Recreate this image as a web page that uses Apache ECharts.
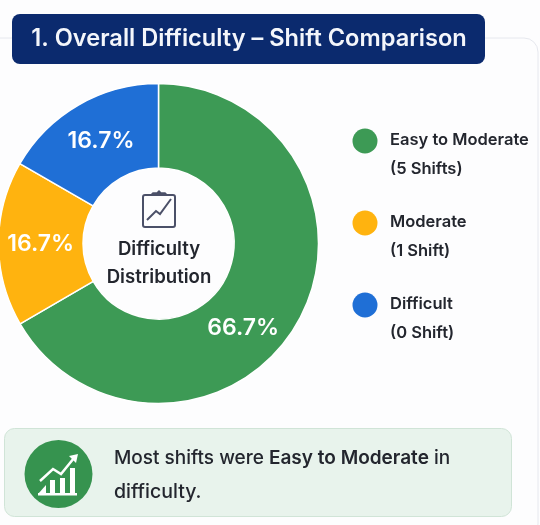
<!DOCTYPE html>
<html><head><meta charset="utf-8">
<script src="https://cdn.jsdelivr.net/npm/echarts@6/dist/echarts.min.js"></script>
<style>html,body{margin:0;padding:0;background:#fdfdfe}#c{width:540px;height:525px}</style>
</head><body><div id="c"></div>
<script>
const categories = ['Easy to Moderate', 'Moderate', 'Difficult'];
const shiftNotes = ['(5 Shifts)', '(1 Shift)', '(0 Shift)'];
const percentValues = [66.7, 16.7, 16.7];
const sliceColors = ['#3d9a55', '#ffb30f', '#1f6fd6'];
const titleText = '1. Overall Difficulty – Shift Comparison';
const centerLines = ['Difficulty', 'Distribution'];
const FONT = 'Inter, "Noto Sans", sans-serif';
const ink = '#23262e';

const legendEls = [];
const legendY = [141, 223, 305];
categories.forEach((c, i) => {
  legendEls.push({type:'circle', shape:{cx:365, cy:legendY[i], r:12.5}, style:{fill:sliceColors[i]}});
  legendEls.push({type:'text', x:390, y:legendY[i]-1, style:{text:c, fill:ink, font:'600 16.5px '+FONT, textVerticalAlign:'middle'}});
  legendEls.push({type:'text', x:390, y:legendY[i]+28, style:{text:shiftNotes[i], fill:ink, font:'600 16.5px '+FONT, textVerticalAlign:'middle'}});
});

const option = {
  animation:false,
  backgroundColor:'#fdfdfe',
  series:[{
    type:'pie', center:[158.5,243.5], radius:[75.5,160], startAngle:90, clockwise:true,
    avoidLabelOverlap:false, silent:true,
    itemStyle:{borderColor:'#ffffff', borderWidth:1.5},
    label:{position:'inside', color:'#fff', fontFamily:FONT, fontSize:23, fontWeight:600, formatter:p=>p.value.toFixed(1)+'%'},
    labelLine:{show:false},
    data:categories.map((c,i)=>({
      name:c, value:percentValues[i], itemStyle:{color:sliceColors[i]},
      label: {offset:[[-20,24],[3,0],[3,2]][i]}
    }))
  }],
  graphic:{elements:[
    {type:'rect', z:-2, shape:{x:-20,y:38,width:558,height:500,r:14}, style:{fill:'#fdfdfe', stroke:'#e6e8ee', lineWidth:1}},
    {type:'rect', z:5, shape:{x:12,y:14,width:473,height:50,r:8}, style:{fill:'#0b2a6e'}},
    {type:'text', z:6, x:249, y:39, style:{text:titleText, fill:'#f4f6fb', font:'600 23.6px '+FONT, textAlign:'center', textVerticalAlign:'middle'}},
    {type:'text', z:6, x:159, y:249, style:{text:centerLines[0], fill:ink, font:'600 18.6px '+FONT, textAlign:'center', textVerticalAlign:'middle'}},
    {type:'text', z:6, x:159, y:277, style:{text:centerLines[1], fill:ink, font:'600 18.6px '+FONT, textAlign:'center', textVerticalAlign:'middle'}},
    {type:'rect', z:6, shape:{x:143,y:195,width:32,height:32,r:2}, style:{fill:'none', stroke:'#4b5068', lineWidth:2}},
    {type:'polyline', z:6, shape:{points:[[151,195],[153,193],[157,193],[159,191],[161,193],[165,193],[167,195]]}, style:{fill:'#4b5068', stroke:'#4b5068', lineWidth:1.5}},
    {type:'polyline', z:6, shape:{points:[[147,220],[156,211],[160,214],[171,199]]}, style:{fill:'none', stroke:'#4b5068', lineWidth:2}},
    {type:'rect', z:1, shape:{x:4.5,y:428.5,width:507,height:88,r:10}, style:{fill:'#e8f3ec', stroke:'#d0e4d7', lineWidth:1}},
    {type:'circle', z:2, shape:{cx:58.5,cy:474,r:34}, style:{fill:'#36934f'}},
    {type:'polyline', z:3, shape:{points:[[40,481],[53,469],[61,474],[74,458]]}, style:{fill:'none', stroke:'#fff', lineWidth:2.5}},
    {type:'polygon', z:3, shape:{points:[[69,456],[78,454],[76,463]]}, style:{fill:'#fff'}},
    {type:'polygon', z:3, shape:{points:[[38,494],[46,485],[46,494]]}, style:{fill:'#fff'}},
    {type:'rect', z:3, shape:{x:50,y:480,width:5,height:14}, style:{fill:'#fff'}},
    {type:'rect', z:3, shape:{x:60,y:478,width:5,height:16}, style:{fill:'#fff'}},
    {type:'rect', z:3, shape:{x:70,y:468,width:5,height:26}, style:{fill:'#fff'}},
    {type:'rect', z:3, shape:{x:38,y:493,width:39,height:2.5}, style:{fill:'#fff'}},
    {type:'text', z:3, x:114, y:458, style:{
      text:'{a|Most shifts were }{b|Easy to Moderate}{a| in}',
      rich:{a:{fill:ink, font:'500 19px '+FONT}, b:{fill:ink, font:'600 19px '+FONT}},
      textVerticalAlign:'middle'}},
    {type:'text', z:3, x:114, y:492, style:{text:'difficulty.', fill:ink, font:'500 19.5px '+FONT, textVerticalAlign:'middle'}},
    ...legendEls
  ]}
};
const chart = echarts.init(document.getElementById('c'), null, {renderer:'canvas'});
chart.setOption(option);
</script></body></html>
